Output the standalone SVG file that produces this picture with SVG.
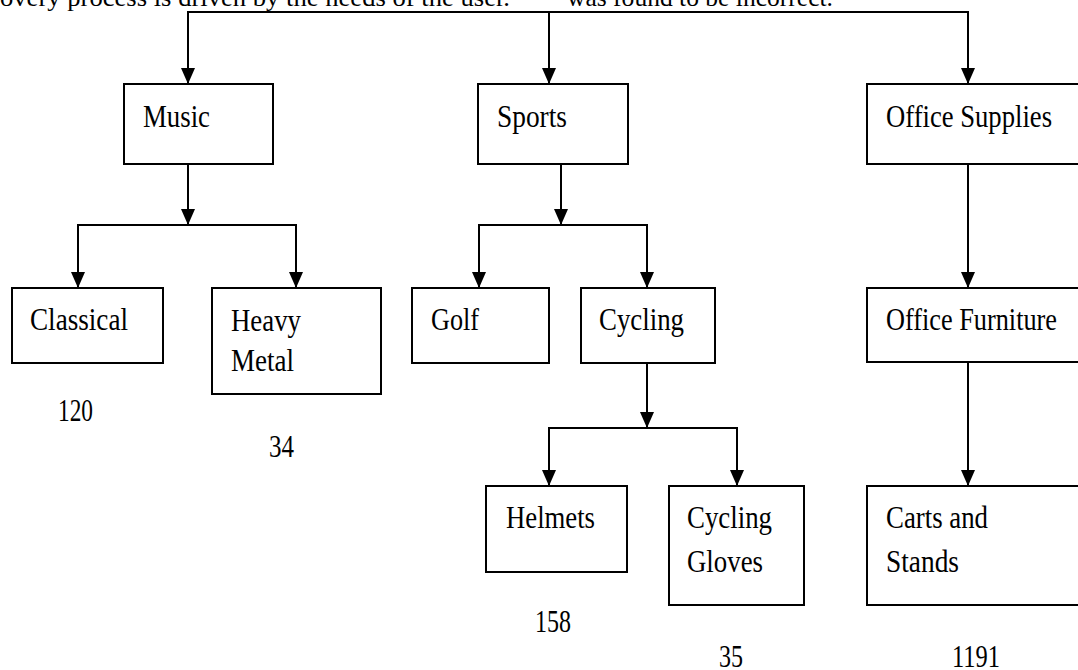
<svg xmlns="http://www.w3.org/2000/svg" width="1078" height="670" viewBox="0 0 1078 670">
<defs>
<style>
.box{fill:#fff;stroke:#000;stroke-width:2}
.lbl{font-family:"Liberation Serif","Times New Roman",serif;font-size:32px;fill:#000}
.top{font-family:"Liberation Serif","Times New Roman",serif;font-size:26px;fill:#000}
.con{fill:none;stroke:#000;stroke-width:2}
</style>
<marker id="arr" viewBox="0 0 16 14" refX="16" refY="7" markerWidth="16" markerHeight="14" markerUnits="userSpaceOnUse" orient="auto">
<path d="M0,0 L16,7 L0,14 z" fill="#000"/>
</marker>
</defs>
<rect width="1078" height="670" fill="#fff"/>
<text class="top" x="0" y="6" textLength="510" lengthAdjust="spacingAndGlyphs">overy process is driven by the needs of the user.</text>
<text class="top" x="567" y="6" textLength="266" lengthAdjust="spacingAndGlyphs">was found to be incorrect.</text>

<g id="connectors">
<path class="con" d="M188,84 V12 H968 V84" />
<path class="con" d="M188,12 V84" marker-end="url(#arr)"/>
<path class="con" d="M549,12 V84" marker-end="url(#arr)"/>
<path class="con" d="M968,12 V84" marker-end="url(#arr)"/>
<path class="con" d="M188,164 V225" marker-end="url(#arr)"/>
<path class="con" d="M78,288 V225 H296 V288"/>
<path class="con" d="M78,225 V288" marker-end="url(#arr)"/>
<path class="con" d="M296,225 V288" marker-end="url(#arr)"/>
<path class="con" d="M561,164 V225" marker-end="url(#arr)"/>
<path class="con" d="M479,288 V225 H647 V288"/>
<path class="con" d="M479,225 V288" marker-end="url(#arr)"/>
<path class="con" d="M647,225 V288" marker-end="url(#arr)"/>
<path class="con" d="M647,363 V428" marker-end="url(#arr)"/>
<path class="con" d="M549,486 V428 H737 V486"/>
<path class="con" d="M549,428 V486" marker-end="url(#arr)"/>
<path class="con" d="M737,428 V486" marker-end="url(#arr)"/>
<path class="con" d="M968,164 V288" marker-end="url(#arr)"/>
<path class="con" d="M968,362 V486" marker-end="url(#arr)"/>
</g>

<g id="music"><rect class="box" x="124" y="84" width="149" height="80"/><text class="lbl" x="143" y="127" textLength="67" lengthAdjust="spacingAndGlyphs">Music</text></g>
<g id="sports"><rect class="box" x="478" y="84" width="150" height="80"/><text class="lbl" x="497" y="127" textLength="70" lengthAdjust="spacingAndGlyphs">Sports</text></g>
<g id="office-supplies"><rect class="box" x="867" y="84" width="230" height="80"/><text class="lbl" x="886" y="127" textLength="166" lengthAdjust="spacingAndGlyphs">Office Supplies</text></g>

<g id="classical"><rect class="box" x="12" y="288" width="151" height="75"/><text class="lbl" x="30" y="330" textLength="98" lengthAdjust="spacingAndGlyphs">Classical</text><text class="lbl" x="58" y="421" textLength="35" lengthAdjust="spacingAndGlyphs">120</text></g>
<g id="heavy-metal"><rect class="box" x="212" y="288" width="169" height="106"/><text class="lbl" x="231" y="331" textLength="70" lengthAdjust="spacingAndGlyphs">Heavy</text><text class="lbl" x="231" y="371" textLength="63" lengthAdjust="spacingAndGlyphs">Metal</text><text class="lbl" x="269" y="457" textLength="25" lengthAdjust="spacingAndGlyphs">34</text></g>
<g id="golf"><rect class="box" x="412" y="288" width="137" height="75"/><text class="lbl" x="431" y="330" textLength="48" lengthAdjust="spacingAndGlyphs">Golf</text></g>
<g id="cycling"><rect class="box" x="581" y="288" width="134" height="75"/><text class="lbl" x="599" y="330" textLength="85" lengthAdjust="spacingAndGlyphs">Cycling</text></g>
<g id="office-furniture"><rect class="box" x="867" y="288" width="230" height="74"/><text class="lbl" x="886" y="330" textLength="171" lengthAdjust="spacingAndGlyphs">Office Furniture</text></g>

<g id="helmets"><rect class="box" x="486" y="486" width="141" height="86"/><text class="lbl" x="506" y="528" textLength="89" lengthAdjust="spacingAndGlyphs">Helmets</text><text class="lbl" x="535" y="632" textLength="36" lengthAdjust="spacingAndGlyphs">158</text></g>
<g id="cycling-gloves"><rect class="box" x="669" y="486" width="135" height="119"/><text class="lbl" x="687" y="528" textLength="85" lengthAdjust="spacingAndGlyphs">Cycling</text><text class="lbl" x="687" y="572" textLength="76" lengthAdjust="spacingAndGlyphs">Gloves</text><text class="lbl" x="719" y="667" textLength="24" lengthAdjust="spacingAndGlyphs">35</text></g>
<g id="carts-and-stands"><rect class="box" x="867" y="486" width="230" height="119"/><text class="lbl" x="886" y="528" textLength="102" lengthAdjust="spacingAndGlyphs">Carts and</text><text class="lbl" x="886" y="572" textLength="73" lengthAdjust="spacingAndGlyphs">Stands</text><text class="lbl" x="952" y="667" textLength="48" lengthAdjust="spacingAndGlyphs">1191</text></g>
</svg>
